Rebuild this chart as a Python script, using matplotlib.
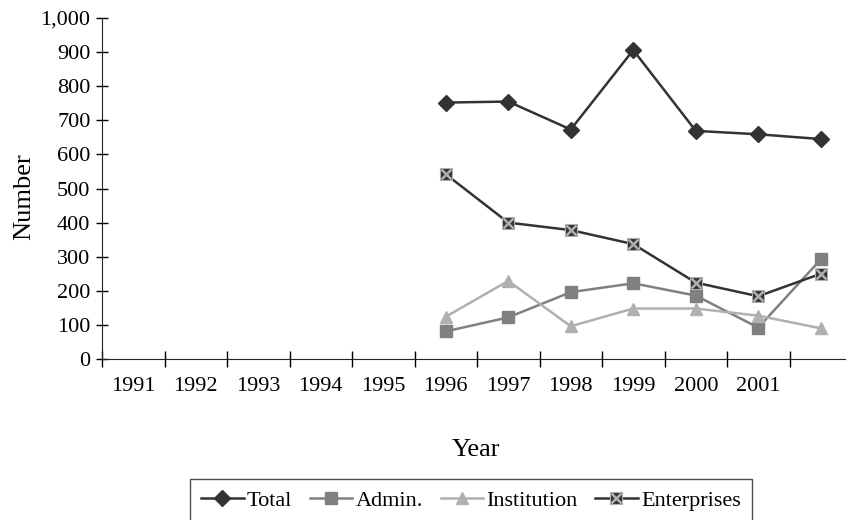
import matplotlib
matplotlib.use('Agg')
import matplotlib.pyplot as plt
import numpy as np

plt.rcParams['font.family'] = ['Liberation Serif', 'DejaVu Serif']

years = ['1991', '1992', '1993', '1994', '1995', '1996', '1997',
         '1998', '1999', '2000', '2001', '']
# series start in 1996 (index 5) and run to the last, unlabelled category
start = 5
total = [752, 755, 673, 906, 669, 659, 645]
admin = [81, 122, 196, 222, 186, 92, 292]
institution = [124, 229, 96, 148, 148, 127, 90]
enterprises = [542, 400, 378, 337, 224, 184, 250]

DARK = '#333333'
MID = '#808080'
LIGHT = '#b0b0b0'
FS = 16

fig = plt.figure(figsize=(8.46, 5.2), dpi=100)
ax = fig.add_axes([102 / 846, 1 - 359 / 520, 744 / 846, 341 / 520])

x = np.arange(start, start + len(total)) + 0.5

ax.plot(x, total, color=DARK, lw=1.8, marker='D', ms=8, mfc=DARK, mec=DARK)
ax.plot(x, admin, color=MID, lw=1.8, marker='s', ms=9, mfc=MID, mec=MID)
ax.plot(x, institution, color=LIGHT, lw=1.8, marker='^', ms=9, mfc=LIGHT, mec=LIGHT)
ax.plot(x, enterprises, color=DARK, lw=1.8, marker='s', ms=9, mfc=DARK, mec=LIGHT, mew=0.8)
ax.plot(x, enterprises, ls='none', marker='x', ms=7, mec=LIGHT, mew=1.8)

ax.set_xlim(0, 744 / 62.5)
ax.set_ylim(0, 1000)

ax.set_yticks(np.arange(0, 1001, 100))
ax.set_yticklabels(['{:,}'.format(v) for v in range(0, 1001, 100)])
ax.set_xticks(np.arange(0, 12))
ax.set_xticklabels([])
ax.set_xticks(np.arange(0, 12) + 0.5, minor=True)
ax.set_xticklabels(years, minor=True)

ax.tick_params(axis='y', direction='inout', length=8.6, width=1, labelsize=FS, pad=4)
ax.tick_params(axis='x', which='major', direction='inout', length=12, width=1)
ax.tick_params(axis='x', which='minor', length=0, labelsize=FS, pad=13)

for side in ['top', 'right']:
    ax.spines[side].set_visible(False)
for side in ['left', 'bottom']:
    ax.spines[side].set_color('#222222')

ax.set_ylabel('Number', fontsize=19)
ax.yaxis.set_label_coords(-0.09, 0.475)
ax.set_xlabel('Year', fontsize=19)
ax.xaxis.set_label_coords(374 / 744, -0.235)

# legend handles: enterprises uses a square with a cross on top
h_total = plt.Line2D([], [], color=DARK, lw=1.8, marker='D', ms=8, mfc=DARK, mec=DARK)
h_admin = plt.Line2D([], [], color=MID, lw=1.8, marker='s', ms=9, mfc=MID, mec=MID)
h_inst = plt.Line2D([], [], color=LIGHT, lw=1.8, marker='^', ms=9, mfc=LIGHT, mec=LIGHT)
h_ent = plt.Line2D([], [], color=DARK, lw=1.8, marker='s', ms=9, mfc=DARK, mec=LIGHT, mew=0.8)
h_ent_x = plt.Line2D([], [], ls='none', marker='x', ms=7, mec=LIGHT, mew=1.8)

leg = fig.legend([h_total, h_admin, h_inst, (h_ent, h_ent_x)],
                 ['Total', 'Admin.', 'Institution', 'Enterprises'],
                 loc='lower center', bbox_to_anchor=(471 / 846, -0.016), ncol=4,
                 fontsize=FS, frameon=True, fancybox=False, edgecolor='#222222',
                 handlelength=1.9, handletextpad=0.15, columnspacing=0.8,
                 borderpad=0.5, borderaxespad=0.3)
leg.get_frame().set_linewidth(1.0)

fig.savefig('out.png', dpi=100)
